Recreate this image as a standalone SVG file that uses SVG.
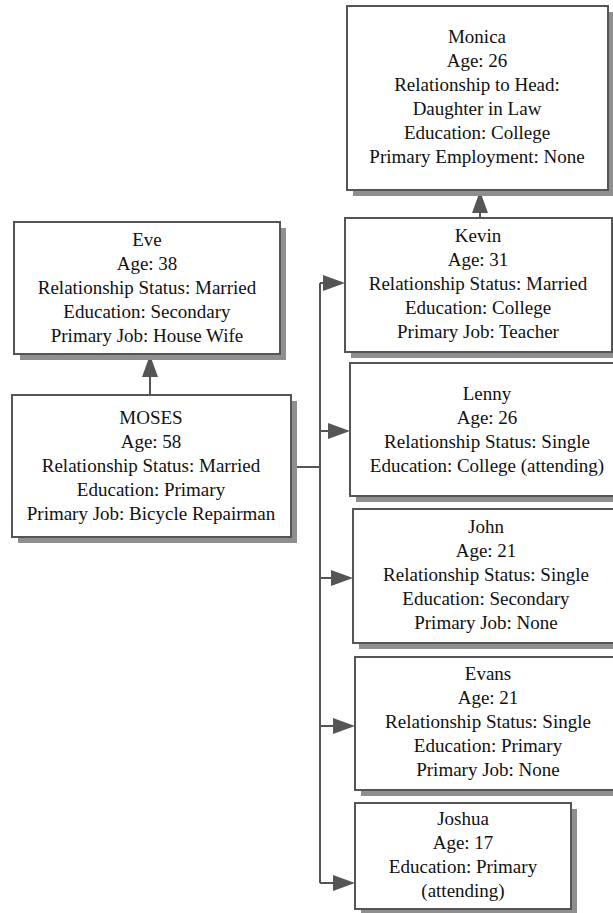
<svg xmlns="http://www.w3.org/2000/svg" width="613" height="913" viewBox="0 0 613 913" font-family="'Liberation Serif', 'Times New Roman', Times, serif">
<style>
.shadow{fill:#8f8f8f;stroke:none}
.box{fill:#fff;stroke:#555;stroke-width:2}
.t{font-family:'Liberation Serif','Times New Roman',Times,serif;font-size:19px;fill:#111;text-anchor:middle}
.conn{fill:none;stroke:#555;stroke-width:2}
.head{fill:#555;stroke:none}
</style>
<rect width="613" height="913" fill="#fff"/>
<g id="connectors">
<path class="conn" d="M150,395 V376"/>
<polygon class="head" points="150,355 142,377 158,377"/>
<path class="conn" d="M480,218 V212"/>
<polygon class="head" points="480,191 472,213 488,213"/>
<path class="conn" d="M292,467 H320 M320,283 V883 M320,283 H323 M320,431 H328 M320,578 H331 M320,726 H333 M320,883 H333"/>
<polygon class="head" points="345,283 323,275 323,291"/>
<polygon class="head" points="350,431 328,423 328,439"/>
<polygon class="head" points="353,578 331,570 331,586"/>
<polygon class="head" points="355,726 333,718 333,734"/>
<polygon class="head" points="355,883 333,875 333,891"/>
</g>
<g id="monica" class="t">
<rect class="shadow" x="353" y="12" width="261" height="184"/>
<rect class="box" x="347" y="6" width="261" height="184"/>
<text x="477" y="43">Monica</text>
<text x="477" y="67">Age: 26</text>
<text x="477" y="91">Relationship to Head:</text>
<text x="477" y="115">Daughter in Law</text>
<text x="477" y="139">Education: College</text>
<text x="477" y="163">Primary Employment: None</text>
</g>
<g id="eve" class="t">
<rect class="shadow" x="20" y="228" width="266" height="132"/>
<rect class="box" x="14" y="222" width="266" height="132"/>
<text x="147" y="246">Eve</text>
<text x="147" y="270">Age: 38</text>
<text x="147" y="294">Relationship Status: Married</text>
<text x="147" y="318">Education: Secondary</text>
<text x="147" y="342">Primary Job: House Wife</text>
</g>
<g id="moses" class="t">
<rect class="shadow" x="18" y="401" width="279" height="142"/>
<rect class="box" x="12" y="395" width="279" height="142"/>
<text x="151" y="424">MOSES</text>
<text x="151" y="448">Age: 58</text>
<text x="151" y="472">Relationship Status: Married</text>
<text x="151" y="496">Education: Primary</text>
<text x="151" y="520">Primary Job: Bicycle Repairman</text>
</g>
<g id="kevin" class="t">
<rect class="shadow" x="351" y="224" width="267" height="134"/>
<rect class="box" x="345" y="218" width="267" height="134"/>
<text x="478" y="242">Kevin</text>
<text x="478" y="266">Age: 31</text>
<text x="478" y="290">Relationship Status: Married</text>
<text x="478" y="314">Education: College</text>
<text x="478" y="338">Primary Job: Teacher</text>
</g>
<g id="lenny" class="t">
<rect class="shadow" x="356" y="369" width="274" height="133"/>
<rect class="box" x="350" y="363" width="274" height="133"/>
<text x="487" y="400">Lenny</text>
<text x="487" y="424">Age: 26</text>
<text x="487" y="448">Relationship Status: Single</text>
<text x="487" y="472">Education: College (attending)</text>
</g>
<g id="john" class="t">
<rect class="shadow" x="359" y="515" width="266" height="134"/>
<rect class="box" x="353" y="509" width="266" height="134"/>
<text x="486" y="533">John</text>
<text x="486" y="557">Age: 21</text>
<text x="486" y="581">Relationship Status: Single</text>
<text x="486" y="605">Education: Secondary</text>
<text x="486" y="629">Primary Job: None</text>
</g>
<g id="evans" class="t">
<rect class="shadow" x="361" y="663" width="266" height="133"/>
<rect class="box" x="355" y="657" width="266" height="133"/>
<text x="488" y="680">Evans</text>
<text x="488" y="704">Age: 21</text>
<text x="488" y="728">Relationship Status: Single</text>
<text x="488" y="752">Education: Primary</text>
<text x="488" y="776">Primary Job: None</text>
</g>
<g id="joshua" class="t">
<rect class="shadow" x="361" y="809" width="216" height="106"/>
<rect class="box" x="355" y="803" width="216" height="106"/>
<text x="463" y="825">Joshua</text>
<text x="463" y="849">Age: 17</text>
<text x="463" y="873">Education: Primary</text>
<text x="463" y="897">(attending)</text>
</g>
</svg>
